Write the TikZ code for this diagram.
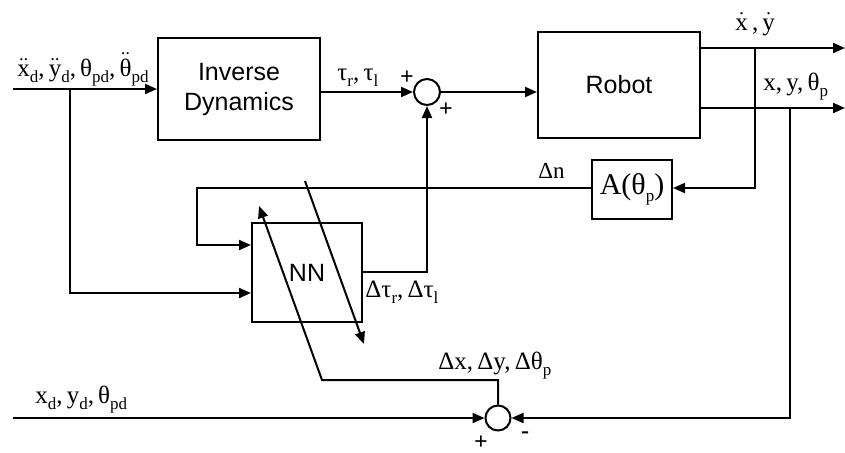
\documentclass[tikz,border=0pt]{standalone}
\usepackage{fontspec}
\setmainfont{Liberation Serif}
\setsansfont{Liberation Sans}
\usetikzlibrary{arrows.meta,calc}
\newcommand\sbs[1]{\raisebox{-0.55ex}{\fontsize{8.5}{9}\selectfont #1}}
\newcommand\adot[1]{$\dot{\hbox{#1}}$}
\newcommand\addot[1]{$\ddot{\hbox{#1}}$}
\tikzset{
  sig/.style={line width=1pt},
  arr/.style={sig,-{Triangle[length=6pt,width=5pt]}},
  blk/.style={draw,line width=1pt,font=\sffamily\fontsize{12.5}{15}\selectfont,align=center,inner sep=0pt},
  sumc/.style={draw,circle,line width=1pt,minimum size=13pt,inner sep=0pt},
  lbl/.style={font=\fontsize{12.5}{15}\selectfont,inner sep=0pt},
  sgn/.style={font=\fontsize{12}{12}\selectfont\bfseries,inner sep=0pt},
}
\begin{document}
\begin{tikzpicture}[x=0.5pt,y=-0.5pt]
\useasboundingbox (0,0) rectangle (845,452);
% blocks
\node[blk,minimum width=81pt,minimum height=51pt] (ID) at (239,89) {Inverse\\Dynamics};
\node[blk,minimum width=81pt,minimum height=53pt] (RB) at (619,85) {Robot};
\node[blk,minimum width=40pt,minimum height=29.5pt,font=\fontsize{15}{16}\selectfont] (A) at (632,189.5) {A(θ\sbs{p})};
\node[blk,minimum width=55pt,minimum height=49.5pt] (NN) at (307,272.5) {NN};
\node[sumc] (s1) at (427,92) {};
\node[sumc,minimum size=12.5pt] (s2) at (498,418) {};
% coordinates
\coordinate (in1) at (13,89);
\coordinate (b1) at (70,89);
\coordinate (in2) at (13,418);
\coordinate (o1s) at (700,48);
\coordinate (o1e) at (845,48);
\coordinate (o2s) at (700,108);
\coordinate (o2e) at (845,108);
\coordinate (f1) at (755,48);
\coordinate (f2) at (790,108);
\coordinate (nl) at (197,188);
\coordinate (d1s) at (305,181);
\coordinate (d1e) at (364,344);
\coordinate (d2s) at (322,380);
\coordinate (d2e) at (259,206);
% connectors
\draw[arr] (in1) -- (ID.west |- in1);
\draw[arr] (b1) |- (NN.west |- 0,293);
\draw[arr] (ID.east |- s1) -- (s1.west);
\draw[arr] (s1.east) -- (RB.west |- s1);
\draw[arr] (o1s) -- (o1e);
\draw[arr] (o2s) -- (o2e);
\draw[arr] (f1) |- (A.east |- nl);
\draw[arr] (f2) |- (s2.east);
\draw[arr] (A.west |- nl) -- (nl) |- (NN.west |- 0,245);
\draw[arr] (NN.east |- 0,272) -| (s1.south);
\draw[arr] (s2.north) |- (d2s) -- (d2e);
\draw[arr] (d1s) -- (d1e);
\draw[arr] (in2) -- (s2.west);
% labels
\node[lbl,anchor=base west] (L1) at (17,76) {\addot{x}\sbs{d},\,\addot{y}\sbs{d},\,θ\sbs{pd},\,\addot{θ}\sbs{pd}};
\node[lbl,anchor=base west] (L2) at (337,80) {τ\sbs{r},\,τ\sbs{l}};
\node[lbl,anchor=base west] (L3) at (735,30) {\adot{x}\,,\,\adot{y}};
\node[lbl,anchor=base west] (L4) at (763,90) {x,\,y,\,θ\sbs{p}};
\node[lbl,anchor=base west,font=\fontsize{11.5}{14}\selectfont] (L5) at (538,178) {Δn};
\node[lbl,anchor=base west] (L6) at (365,297) {Δτ\sbs{r},\,Δτ\sbs{l}};
\node[lbl,anchor=base west] (L7) at (438,369) {Δx,\,Δy,\,Δθ\sbs{p}};
\node[lbl,anchor=base west] (L8) at (35,403) {x\sbs{d},\,y\sbs{d},\,θ\sbs{pd}};
\node[sgn] (p1) at (407,78) {+};
\node[sgn] (p2) at (446,110) {+};
\node[sgn] (p3) at (481,443) {+};
\node[sgn] (m1) at (525,435) {-};
\end{tikzpicture}
\end{document}
